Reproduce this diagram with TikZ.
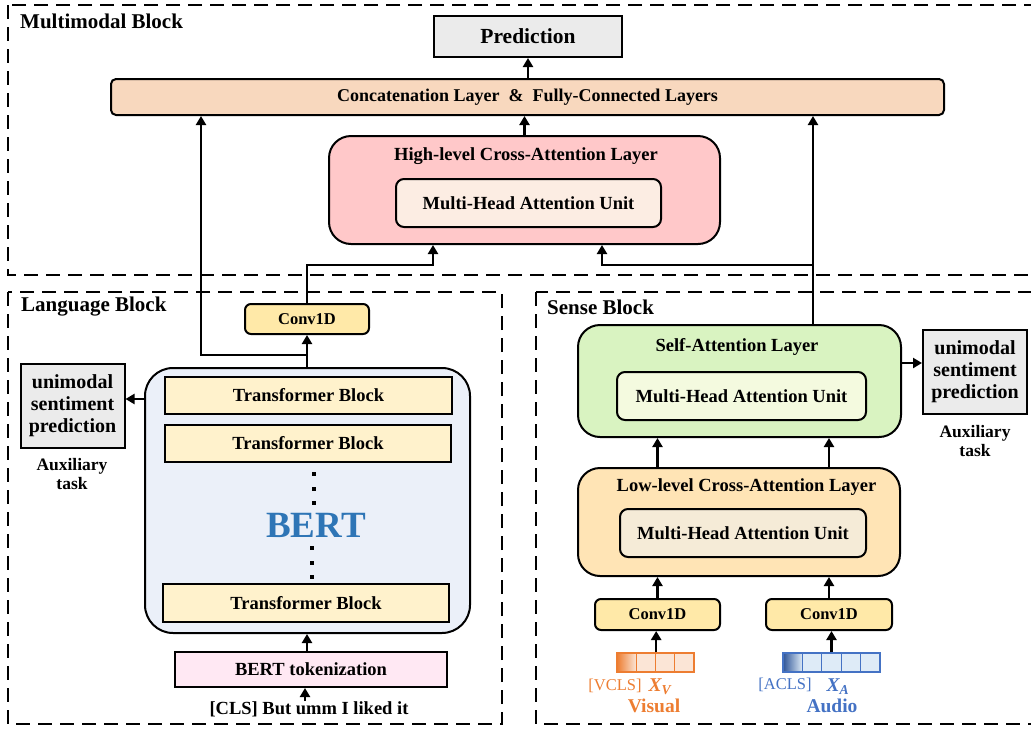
\documentclass[tikz,border=0pt]{standalone}
\usepackage{fontspec}
\setmainfont{Liberation Serif}
\usetikzlibrary{arrows.meta}
\definecolor{cgray}{HTML}{EBEBEB}
\definecolor{cpeach}{HTML}{F8D8BE}
\definecolor{cpink}{HTML}{FFC8C9}
\definecolor{cpinkin}{HTML}{FCEDE3}
\definecolor{cbert}{HTML}{EBF0F9}
\definecolor{ctb}{HTML}{FFF2CC}
\definecolor{ctok}{HTML}{FFE8F3}
\definecolor{cconv}{HTML}{FFE9A8}
\definecolor{cself}{HTML}{D9F3C1}
\definecolor{cselfin}{HTML}{F4FADF}
\definecolor{clow}{HTML}{FFE4B5}
\definecolor{clowin}{HTML}{F5EBD7}
\definecolor{cbluetxt}{HTML}{2E75B6}
\definecolor{vor}{HTML}{ED7D31}
\definecolor{vorl}{HTML}{FBE5D6}
\definecolor{abl}{HTML}{4472C4}
\definecolor{abld}{HTML}{2F5597}
\definecolor{abll}{HTML}{DEEBF7}
\begin{document}
\begin{tikzpicture}[x=1pt,y=-1pt,
  box/.style={draw, line width=2pt, inner sep=0pt, align=center,
    font=\bfseries\fontsize{18.5}{22}\selectfont},
  ttl/.style={inner sep=0pt, align=center, font=\bfseries\fontsize{18.5}{22}\selectfont},
  blklabel/.style={inner sep=0pt, anchor=west, font=\bfseries\fontsize{21}{24}\selectfont},
  arr/.style={-{Triangle[length=9pt,width=10pt]}, line width=2.6pt},
  blk/.style={draw, dash pattern=on 14pt off 8pt, line width=2pt},
  dotsq/.style={fill, minimum size=4.5pt, inner sep=0pt},
  vcell/.style={draw=vor, line width=1.3pt, fill=vorl, minimum width=19.25pt, minimum height=19pt, inner sep=0pt},
  acell/.style={draw=abl, line width=1.3pt, fill=abll, minimum width=19.4pt, minimum height=19pt, inner sep=0pt},
  unim/.style={box, fill=cgray, minimum width=104pt, minimum height=84pt,
    font=\bfseries\fontsize{20}{22}\selectfont},
  aux/.style={inner sep=0pt, align=center, font=\bfseries\fontsize{17.5}{19.5}\selectfont},
  convbox/.style={box, fill=cconv, rounded corners=6pt, font=\bfseries\fontsize{16.5}{18}\selectfont},
]
\useasboundingbox (0,0) rectangle (1031,729);

% block frames
\draw[blk] (8,5) rectangle (1045,275);
\draw[blk] (8,292) rectangle (502,724);
\draw[blk] (536,292) rectangle (1045,724);
\node[blklabel] (lmm) at (20,21) {Multimodal Block};
\node[blklabel] (llang) at (21,307) {Language Block};
\node[blklabel] (lsense) at (547,307) {Sense Block};

% multimodal block
\node[box, fill=cgray, minimum width=188pt, minimum height=41pt,
  font=\bfseries\fontsize{21.5}{24}\selectfont] (pred) at (528,36.5) {Prediction};
\node[box, fill=cpeach, rounded corners=5pt, minimum width=833pt, minimum height=36pt,
  font=\bfseries\fontsize{18}{20}\selectfont] (concat) at (527.5,97)
  {Concatenation Layer~~\&~~Fully-Connected Layers};
\node[box, fill=cpink, rounded corners=22pt, minimum width=391pt, minimum height=108pt] (high) at (524.5,190) {};
\node[ttl] (hight) at (526,156) {High-level Cross-Attention Layer};
\node[box, fill=cpinkin, rounded corners=8pt, minimum width=265pt, minimum height=48pt] (highin) at (528.5,203) {Multi-Head Attention Unit};

% language block
\node[convbox, minimum width=124pt, minimum height=30pt] (convL) at (307,319) {Conv1D};
\node[box, fill=cbert, rounded corners=28pt, minimum width=325pt, minimum height=265pt] (bert) at (307.5,500.5) {};
\node[box, fill=ctb, minimum width=287pt, minimum height=37pt] (tb1) at (308.5,395.5) {Transformer Block};
\node[box, fill=ctb, minimum width=286pt, minimum height=37pt] (tb2) at (308,443.5) {Transformer Block};
\node[box, fill=ctb, minimum width=286pt, minimum height=38pt] (tb3) at (306,603) {Transformer Block};
\node[dotsq] (d1) at (314,474) {};
\node[dotsq] (d2) at (314,489) {};
\node[dotsq] (d3) at (314,503) {};
\node[dotsq] (d4) at (312,548) {};
\node[dotsq] (d5) at (312,563) {};
\node[dotsq] (d6) at (312,577) {};
\node[inner sep=0pt, text=cbluetxt, font=\bfseries\fontsize{37}{40}\selectfont] (bertt) at (316,525) {BERT};
\node[unim] (unimL) at (72.5,406) {unimodal\\sentiment\\prediction};
\node[aux] (auxL) at (72,474) {Auxiliary\\task};
\node[box, fill=ctok, minimum width=272pt, minimum height=35pt] (tok) at (311,669.5) {BERT tokenization};
\node[ttl] (cls) at (309,709) {[CLS] But umm I liked it};

% sense block
\node[box, fill=cself, rounded corners=22pt, minimum width=323pt, minimum height=112pt] (self) at (739.5,381) {};
\node[ttl] (selft) at (737,347) {Self-Attention Layer};
\node[box, fill=cselfin, rounded corners=8pt, minimum width=249pt, minimum height=48pt] (selfin) at (741.5,396) {Multi-Head Attention Unit};
\node[unim] (unimR) at (975,372) {unimodal\\sentiment\\prediction};
\node[aux] (auxR) at (975,441) {Auxiliary\\task};
\node[box, fill=clow, rounded corners=22pt, minimum width=322pt, minimum height=108pt] (low) at (739,522) {};
\node[ttl] (lowt) at (746.5,487) {Low-level Cross-Attention Layer};
\node[box, fill=clowin, rounded corners=8pt, minimum width=246pt, minimum height=48pt] (lowin) at (743,533) {Multi-Head Attention Unit};
\node[convbox, minimum width=125pt, minimum height=31pt] (convV) at (657.5,614.5) {Conv1D};
\node[convbox, minimum width=126pt, minimum height=31pt] (convA) at (829,614.5) {Conv1D};

% vectors
\node[vcell, left color=vor, right color=vorl] (v1) at (626.6,662.5) {};
\node[vcell] (v2) at (645.9,662.5) {};
\node[vcell] (v3) at (665.1,662.5) {};
\node[vcell] (v4) at (684.4,662.5) {};
\node[acell, left color=abld, right color=abll] (a1) at (792.7,662.5) {};
\node[acell] (a2) at (812.1,662.5) {};
\node[acell] (a3) at (831.5,662.5) {};
\node[acell] (a4) at (850.9,662.5) {};
\node[acell] (a5) at (870.3,662.5) {};
\node[inner sep=0pt, text=vor, font=\fontsize{16.5}{18}\selectfont] (vcls) at (615,686) {[VCLS]};
\node[inner sep=0pt, text=vor, font=\bfseries\itshape\fontsize{19.5}{20}\selectfont] (xv) at (660,687) {X\textsubscript{V}};
\node[inner sep=0pt, text=vor, font=\bfseries\fontsize{19.5}{20}\selectfont] (visl) at (654,706) {Visual};
\node[inner sep=0pt, text=abl, font=\fontsize{16.5}{18}\selectfont] (acls) at (785,685) {[ACLS]};
\node[inner sep=0pt, text=abl, font=\bfseries\itshape\fontsize{19.5}{20}\selectfont] (xa) at (838,687) {X\textsubscript{A}};
\node[inner sep=0pt, text=abl, font=\bfseries\fontsize{19.5}{20}\selectfont] (audl) at (832,706) {Audio};

% helper coordinates
\coordinate (jL) at (433,265);
\coordinate (hr) at (602,265);
\coordinate (rx) at (813,265);
\coordinate (lx) at (201,355);
\coordinate (ay) at (0,363);
\coordinate (ly) at (0,399);
\coordinate (cx) at (305,0);

% connectors
\draw[arr] (pred.south |- concat.north) -- (pred.south);
\draw[arr] (high.north) -- (high.north |- concat.south);
\draw[arr] (convL.north) |- (jL) -- (high.south -| jL);
\draw[arr] (self.north -| rx) -- (concat.south -| rx);
\draw[arr] (rx) -- (hr) -- (high.south -| hr);
\draw[arr] (convL.south |- lx) -| (concat.south -| lx);
\draw[arr] (convL.south |- bert.north) -- (convL.south);
\draw[arr] (bert.west |- ly) -- (unimL.east |- ly);
\draw[arr] (tok.north -| convL.south) -- (bert.south -| convL.south);
\draw[arr] (cls.north -| cx) -- (tok.south -| cx);
\draw[arr] (self.east |- ay) -- (unimR.west |- ay);
\draw[arr] (low.north -| convV) -- (self.south -| convV);
\draw[arr] (low.north -| convA) -- (self.south -| convA);
\draw[arr] (convV.north) -- (low.south -| convV);
\draw[arr] (convA.north) -- (low.south -| convA);
\draw[arr] (v2.north east) -- (convV.south -| v2.north east);
\draw[arr] (a3.north) -- (convA.south -| a3.north);
\end{tikzpicture}
\end{document}
